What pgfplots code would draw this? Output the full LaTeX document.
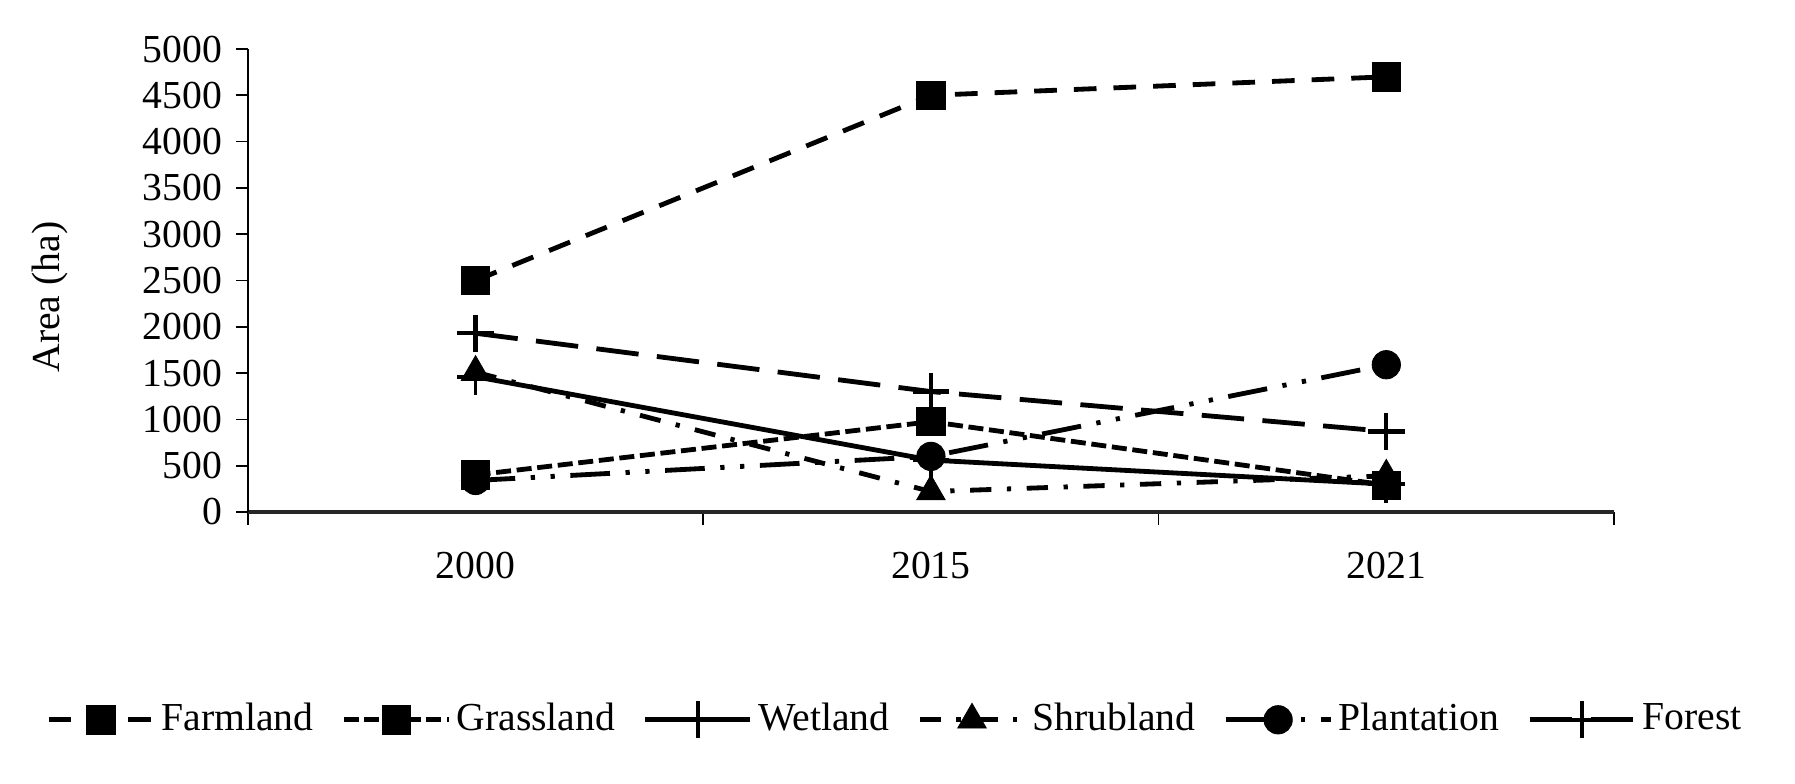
\documentclass[border=0pt]{standalone}
\usepackage{fontspec}
\setmainfont{Liberation Serif}
\usepackage{pgfplots}
\pgfplotsset{compat=1.18}
\begin{document}
\fontsize{14}{17}\selectfont
\begin{tikzpicture}
\begin{axis}[
  scale only axis, width=482.2pt, height=163.4pt,
  xmin=-0.5, xmax=2.5, ymin=0, ymax=5000,
  axis x line*=bottom, axis y line*=left,
  x axis line style={line width=1.1pt, black!85},
  y axis line style={line width=0.7pt, black},
  xtick={0,1,2}, xticklabels={2000,2015,2021},
  xticklabel style={yshift=-5pt},
  major x tick style={draw=none},
  minor xtick={-0.5,0.5,1.5,2.5},
  minor x tick style={line width=0.6pt, black},
  minor tick length=4.5pt,
  ytick={0,500,...,5000},
  y tick style={line width=0.6pt, black},
  major tick length=4.2pt,
  tick align=outside,
  /pgf/number format/assume math mode=true,
  yticklabel style={/pgf/number format/1000 sep={}},
  ylabel={Area (ha)},
  ylabel style={at={(axis description cs:-0.145,0.464)}, anchor=center},
  legend style={draw=none, fill=none, legend columns=6,
    at={(axis description cs:0.475,-0.449)}, anchor=center,
    /tikz/every even column/.append style={column sep=7.8pt}},
  legend image code/.code={\draw[mark repeat=2,mark phase=2] plot coordinates {(0pt,0pt)(18.5pt,0pt)(37pt,0pt)};},
  clip=false,
]
\addplot[black, line width=1.7pt, dash pattern=on 8pt off 6pt, mark=square*, mark size=5pt, mark options={solid, line width=0.3pt}]
  coordinates {(0,2500)(1,4500)(2,4700)};
\addlegendentry{Farmland}
\addplot[black, line width=1.7pt, dash pattern=on 5.3pt off 2pt, mark=square*, mark size=5pt, mark options={solid, line width=0.3pt}]
  coordinates {(0,400)(1,975)(2,290)};
\addlegendentry{Grassland}
\addplot[black, line width=1.7pt, solid, mark=+, mark size=6.5pt, mark options={solid, line width=1.3pt}]
  coordinates {(0,1460)(1,560)(2,300)};
\addlegendentry{Wetland}
\addplot[black, line width=1.7pt, dash pattern=on 7.5pt off 5.5pt on 1.5pt off 5.5pt, mark=triangle*, mark size=5.8pt, mark options={solid, line width=0.3pt}]
  coordinates {(0,1510)(1,220)(2,390)};
\addlegendentry{Shrubland}
\addplot[black, line width=1.7pt, dash pattern=on 14pt off 5.5pt on 1.5pt off 5.5pt on 1.5pt off 5.5pt, mark=*, mark size=5pt, mark options={solid, line width=0.3pt}]
  coordinates {(0,340)(1,600)(2,1590)};
\addlegendentry{Plantation}
\addplot[black, line width=1.7pt, dash pattern=on 15pt off 6.5pt, mark=+, mark size=6.5pt, mark options={solid, line width=1.5pt}]
  coordinates {(0,1930)(1,1300)(2,870)};
\addlegendentry{Forest}
\end{axis}
\pgfresetboundingbox
\path[use as bounding box] (-87.5pt,-96pt) rectangle (546.1pt,180.7pt);
\end{tikzpicture}
\end{document}
